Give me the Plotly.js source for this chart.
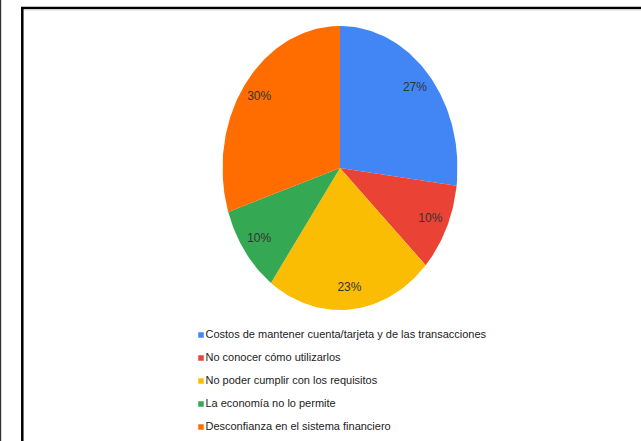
<!DOCTYPE html>
<html>
<head>
<meta charset="utf-8">
<script src="https://cdn.plot.ly/plotly-3.0.1.min.js"></script>
<style>html,body{margin:0;padding:0;background:#fff;}#chart{width:641px;height:441px;}</style>
</head>
<body>
<div id="chart"></div>
<script>
// ---- data ----
const categories = [
  "Costos de mantener cuenta/tarjeta y de las transacciones",
  "No conocer cómo utilizarlos",
  "No poder cumplir con los requisitos",
  "La economía no lo permite",
  "Desconfianza en el sistema financiero"
];
const values = [27, 10, 23, 10, 30];
const labelsText = ["27%", "10%", "23%", "10%", "30%"];
const colors = ["#4285F4", "#EA4335", "#FBBC04", "#34A853", "#FF6D01"];

const FONT = "Liberation Sans, Arial, sans-serif";

// ---- build wedges (clockwise from 12 o'clock) ----
const total = values.reduce((a, b) => a + b, 0);
const traces = [];
const labX = [], labY = [];
const LABEL_R = 0.85;
let cum = 0;
values.forEach((v, i) => {
  const a0 = cum / total * 2 * Math.PI;
  const a1 = (cum + v) / total * 2 * Math.PI;
  const steps = Math.max(8, Math.ceil(v * 3));
  const xs = [0], ys = [0];
  for (let k = 0; k <= steps; k++) {
    const a = a0 + (a1 - a0) * k / steps;
    xs.push(Math.sin(a));
    ys.push(Math.cos(a));
  }
  xs.push(0); ys.push(0);
  traces.push({
    type: "scatter", mode: "lines", x: xs, y: ys, fill: "toself",
    fillcolor: colors[i], line: {width: 0, color: colors[i]},
    hoverinfo: "skip", showlegend: false, xaxis: "x", yaxis: "y"
  });
  const am = (a0 + a1) / 2;
  labX.push(LABEL_R * Math.sin(am));
  labY.push(LABEL_R * Math.cos(am));
  cum += v;
});

// percentage labels
traces.push({
  type: "scatter", mode: "text", x: labX, y: labY, text: labelsText,
  textposition: "middle center",
  textfont: {family: FONT, size: 12, color: "#333"},
  hoverinfo: "skip", showlegend: false, xaxis: "x", yaxis: "y"
});

// legend drawn as markers + text on a second axis (row index)
const legendRows = categories.map((_, i) => i);
traces.push({
  type: "scatter", mode: "markers+text",
  x: categories.map(() => 201), y: legendRows, text: categories,
  textposition: "middle right",
  marker: {symbol: "square", size: 5.5, color: colors},
  textfont: {family: FONT, size: 11, color: "#222"},
  hoverinfo: "skip", showlegend: false, xaxis: "x2", yaxis: "y2",
  cliponaxis: false
});

const layout = {
  width: 641, height: 441,
  margin: {l: 0, r: 0, t: 0, b: 0},
  paper_bgcolor: "#fff", plot_bgcolor: "rgba(0,0,0,0)",
  showlegend: false,
  xaxis: {domain: [222.5 / 641, 457.5 / 641], range: [-1, 1], visible: false, fixedrange: true},
  yaxis: {domain: [(441 - 310) / 441, (441 - 26) / 441], range: [-1, 1], visible: false, fixedrange: true},
  xaxis2: {domain: [0, 1], range: [0, 641], visible: false, anchor: "y2", fixedrange: true},
  yaxis2: {domain: [0, 1], range: [106 / 23, -335 / 23], visible: false, anchor: "x2", fixedrange: true},
  shapes: [
    {type: "line", xref: "paper", yref: "paper", x0: 22.3 / 641, x1: 22.3 / 641, y0: 0, y1: (441 - 7) / 441,
     line: {color: "#000", width: 2.5}},
    {type: "line", xref: "paper", yref: "paper", x0: 21 / 641, x1: 1, y0: (441 - 8) / 441, y1: (441 - 8) / 441,
     line: {color: "#000", width: 2.5}},
    {type: "line", xref: "paper", yref: "paper", x0: 24 / 641, x1: 1, y0: (441 - 10) / 441, y1: (441 - 10) / 441,
     line: {color: "#ddd", width: 1}},
    {type: "line", xref: "paper", yref: "paper", x0: 0.6 / 641, x1: 0.6 / 641, y0: 0, y1: 1,
     line: {color: "#333", width: 1.2}}
  ]
};

Plotly.newPlot("chart", traces, layout, {staticPlot: true, displayModeBar: false});
</script>
</body>
</html>
